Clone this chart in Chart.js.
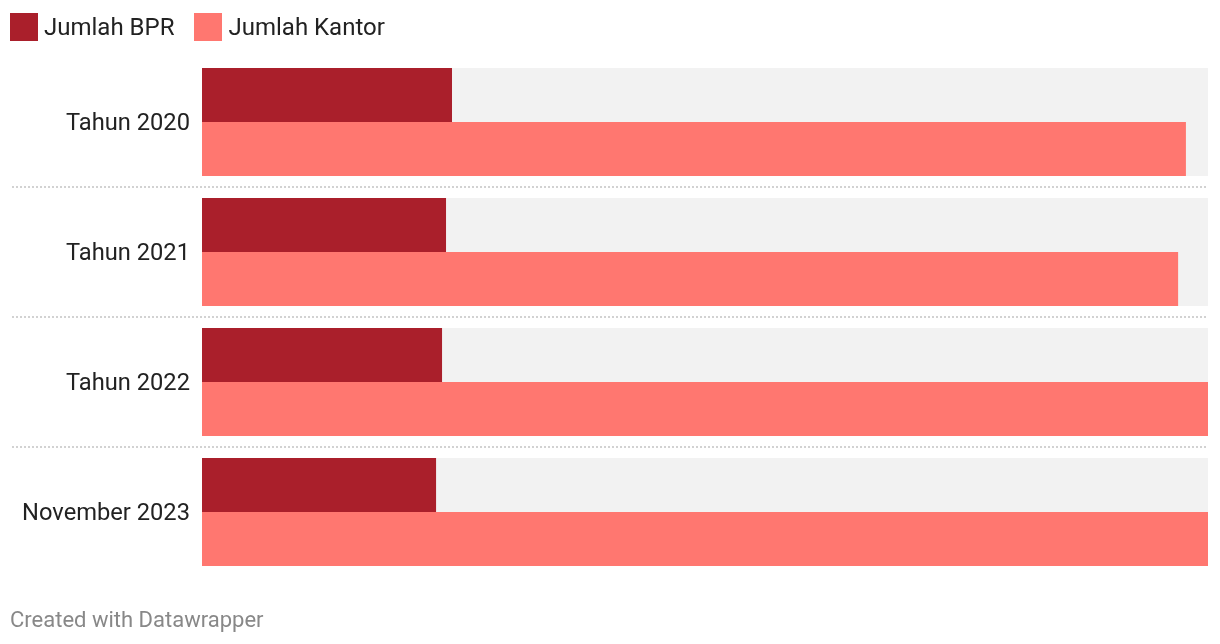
<!DOCTYPE html>
<html>
<head>
<meta charset="utf-8">
<script src="https://cdn.jsdelivr.net/npm/chart.js@4/dist/chart.umd.min.js"></script>
<style>
  html, body { margin: 0; padding: 0; background: #fff; }
  body { width: 1220px; height: 644px; position: relative; overflow: hidden; font-family: Roboto, "Noto Sans", sans-serif; }
  #wrap { position: absolute; left: 0; top: 0; width: 1220px; height: 644px; }
  .legend { position: absolute; left: 10px; top: 13px; display: flex; align-items: center; font-size: 24px; color: #222; }
  .legend .item { display: flex; align-items: center; margin-right: 20px; }
  .legend .sw { width: 28px; height: 28px; margin-right: 6px; }
  .footer { position: absolute; left: 10px; top: 607px; font-size: 22px; color: #888; }
</style>
</head>
<body>
<div id="wrap"><canvas id="c" width="1220" height="644"></canvas></div>
<div class="legend" id="legend"></div>
<div class="footer">Created with Datawrapper</div>
<script>
const categories = ["Tahun 2020", "Tahun 2021", "Tahun 2022", "November 2023"];
const seriesNames = ["Jumlah BPR", "Jumlah Kantor"];
const jumlahBPR = [1506, 1470, 1446, 1410];
const jumlahKantor = [5927, 5880, 6060, 6060];
const colors = ["#aa1f2b", "#ff7770"];

// HTML legend
const legendEl = document.getElementById('legend');
seriesNames.forEach((n, i) => {
  const it = document.createElement('div');
  it.className = 'item';
  it.innerHTML = '<span class="sw" style="background:' + colors[i] + '"></span><span>' + n + '</span>';
  legendEl.appendChild(it);
});

const trackPlugin = {
  id: 'tracks',
  beforeDatasetsDraw(chart) {
    const ctx = chart.ctx;
    const area = chart.chartArea;
    const m0 = chart.getDatasetMeta(0), m1 = chart.getDatasetMeta(1);
    const bands = [];
    ctx.save();
    ctx.fillStyle = '#f2f2f2';
    for (let i = 0; i < categories.length; i++) {
      const a = m0.data[i], b = m1.data[i];
      const top = Math.min(a.y - a.height / 2, b.y - b.height / 2);
      const bot = Math.max(a.y + a.height / 2, b.y + b.height / 2);
      bands.push([top, bot]);
      ctx.fillRect(area.left, top, area.right - area.left, bot - top);
    }
    ctx.strokeStyle = '#d2d2d2';
    ctx.lineWidth = 2;
    ctx.setLineDash([2, 2]);
    for (let i = 0; i < bands.length - 1; i++) {
      const y = Math.round((bands[i][1] + bands[i + 1][0]) / 2);
      ctx.beginPath();
      ctx.moveTo(12, y);
      ctx.lineTo(area.right, y);
      ctx.stroke();
    }
    ctx.restore();
  }
};

new Chart(document.getElementById('c'), {
  type: 'bar',
  data: {
    labels: categories,
    datasets: [
      { label: seriesNames[0], data: jumlahBPR, backgroundColor: colors[0] },
      { label: seriesNames[1], data: jumlahKantor, backgroundColor: colors[1] }
    ]
  },
  options: {
    indexAxis: 'y',
    responsive: false,
    animation: false,
    datasets: { bar: { categoryPercentage: 108 / 130, barPercentage: 1, borderWidth: 0 } },
    layout: { padding: { left: 0, right: 12, top: 57, bottom: 67 } },
    plugins: { legend: { display: false }, tooltip: { enabled: false } },
    scales: {
      x: { display: false, min: 0, max: Math.max(...jumlahKantor) },
      y: {
        grid: { display: false, drawTicks: false },
        border: { display: false },
        ticks: { color: '#222', padding: 12, labelOffset: 2, font: { family: 'Roboto', size: 23.7 } },
        afterFit(scale) { scale.width = 202; }
      }
    }
  },
  plugins: [trackPlugin]
});
</script>
</body>
</html>
